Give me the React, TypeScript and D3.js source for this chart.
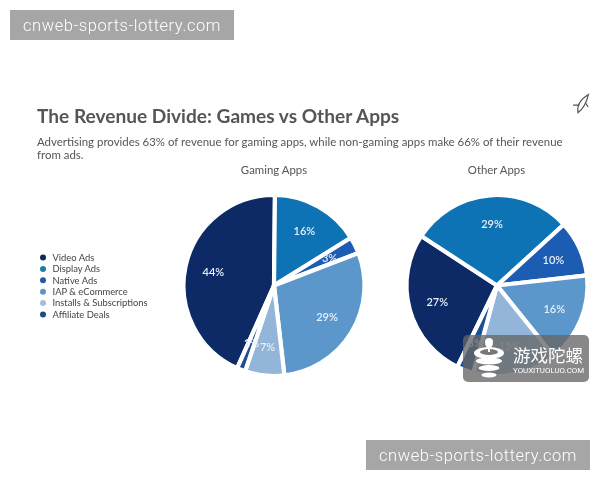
import React from "react";
import * as d3 from "d3";

const categories = ["Video Ads", "Display Ads", "Native Ads", "IAP & eCommerce", "Installs & Subscriptions", "Affiliate Deals"];
const colors = ["#0a2a66", "#0f73b5", "#1d5bb3", "#5b97cc", "#93b5da", "#1b4f94"];
const legendColors = ["#0b2a5e", "#1a7ea8", "#1d5ba8", "#5f94c4", "#a9bdd8", "#1d4c80"];
// Slice sizes as they appear in the picture; printed labels are kept separately.
const gamingValues = [43.5, 16, 3, 29, 7, 1.5];
const gamingLabels = ["44%", "16%", "3%", "29%", "7%", "1%"];
const otherValues = [27, 29, 10, 16, 15, 3];
const otherLabels = ["27%", "29%", "10%", "16%", "15%", "3%"];
const pieTitles = ["Gaming Apps", "Other Apps"];
const bannerText = "cnweb-sports-lottery.com";
const font = "Lato, 'Open Sans', sans-serif";

function Pie({ values, labels, cx, cy, start, title, titleX }: { values: number[]; labels: string[]; cx: number; cy: number; start: number; title: string; titleX: number }) {
  const toRad = (d: number) => (d * Math.PI) / 180;
  const pie = d3.pie<number>().sort(null).startAngle(toRad(start)).endAngle(toRad(start + 360));
  const arc = d3.arc<d3.PieArcDatum<number>>().innerRadius(0).outerRadius(90.5);
  const labelArc = d3.arc<d3.PieArcDatum<number>>().innerRadius(62).outerRadius(62);
  const arcs = pie(values);
  return (
    <g>
      <text x={titleX} y={174} textAnchor="middle" fontSize={11.4} fill="#555">{title}</text>
      <g transform={`translate(${cx},${cy})`}>
        {arcs.map((a, i) => (
          <path key={i} d={arc(a) || ""} fill={colors[i]} stroke="#fff" strokeWidth={4.2} strokeLinejoin="round" />
        ))}
        {arcs.map((a, i) => {
          const [x, y] = labelArc.centroid(a);
          return (
            <text key={i} x={x} y={y} dy="0.35em" textAnchor="middle" fontSize={11} fontWeight={600} fill="#e8eef6">
              {labels[i]}
            </text>
          );
        })}
      </g>
    </g>
  );
}

function Banner({ x, y }: { x: number; y: number }) {
  return (
    <g>
      <rect x={x} y={y} width={224} height={30} fill="#a6a6a6" />
      <text x={x + 112} y={y + 20.5} textAnchor="middle" fontSize={16.5} letterSpacing={0.55} fill="#fff" fontFamily="Roboto, sans-serif" fontWeight={300}>
        {bannerText}
      </text>
    </g>
  );
}

export default function App() {
  const legendY = d3.scalePoint<string>().domain(categories).range([257.5, 314.5]);
  return (
    <svg width={600} height={480} style={{ position: "absolute", left: 0, top: 0, background: "#fff" }} fontFamily={font}>
      <defs>
        <filter id="soft" x="-5%" y="-5%" width="110%" height="110%">
          <feGaussianBlur stdDeviation="0.4" />
        </filter>
      </defs>
      <g filter="url(#soft)">
        <text x={37} y={123} fontSize={19.1} fontWeight={700} fill="#555">The Revenue Divide: Games vs Other Apps</text>
        <text x={37} y={146} fontSize={11.45} fill="#555">Advertising provides 63% of revenue for gaming apps, while non-gaming apps make 66% of their revenue</text>
        <text x={37} y={159} fontSize={11.45} fill="#555">from ads.</text>
        <g transform="translate(583,104) rotate(-60)" fill="none" stroke="#555" strokeWidth={1.2}>
          <path d="M-10,0 C-4,-5 4,-4 11,0 C4,2 -4,3 -10,0 Z" />
          <path d="M-3,-3 L-6,-8 M2,2 L0,6" />
        </g>
        <Pie values={gamingValues} labels={gamingLabels} cx={274} cy={285.5} start={204} title={pieTitles[0]} titleX={274} />
        <Pie values={otherValues} labels={otherLabels} cx={497} cy={285.5} start={206} title={pieTitles[1]} titleX={496.5} />
        {categories.map((c, i) => (
          <g key={c}>
            <circle cx={43} cy={legendY(c)} r={3} fill={legendColors[i]} />
            <text x={52.5} y={legendY(c)} dy="0.35em" fontSize={9.4} fill="#444">{c}</text>
          </g>
        ))}
      </g>
      <Banner x={10} y={10} />
      <Banner x={366} y={440} />
      <g>
        <rect x={463} y={335} width={126} height={47} rx={5} fill="#666" fillOpacity={0.78} />
        <g fill="#fff">
          <ellipse cx={489} cy={353} rx={15} ry={6} />
          <ellipse cx={489} cy={361} rx={13} ry={3.5} />
          <ellipse cx={489} cy={368} rx={10.5} ry={3} />
          <ellipse cx={489} cy={375} rx={7.5} ry={2.5} />
          <circle cx={489} cy={342} r={4} />
          <path d="M485,344 L489,352 L493,344 Z" />
        </g>
        <ellipse cx={489} cy={352} rx={9} ry={3} fill="#777" />
        <path d="M489,345 L489,352" stroke="#fff" strokeWidth={2} />
        <text x={513} y={362} fontSize={17.5} fill="#fff" fontFamily="'Noto Sans CJK SC', sans-serif">游戏陀螺</text>
        <text x={513} y={373} fontSize={7.9} fill="#fff" fontFamily="Roboto, sans-serif">YOUXITUOLUO.COM</text>
      </g>
    </svg>
  );
}
